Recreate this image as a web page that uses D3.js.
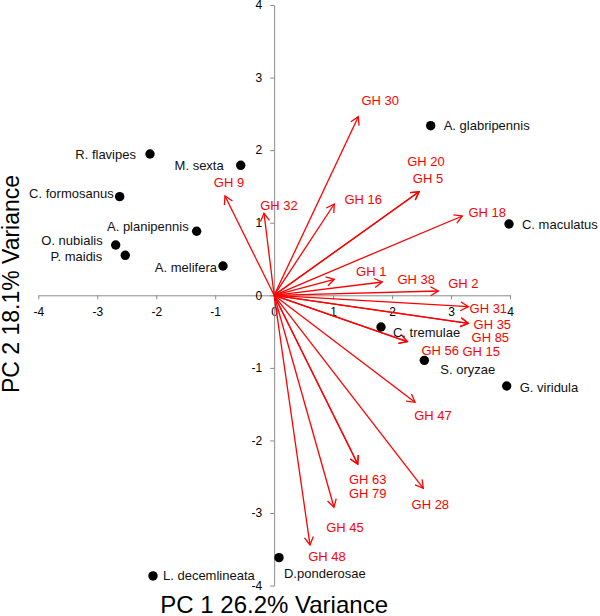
<!DOCTYPE html>
<html>
<head>
<meta charset="utf-8">
<script src="https://cdn.jsdelivr.net/npm/d3@7"></script>
<style>
  html, body { margin: 0; padding: 0; background: #fff; }
  svg { display: block; }
  text { font-family: "Liberation Sans", Arial, sans-serif; }
</style>
</head>
<body>
<svg id="chart" width="600" height="616"></svg>
<script>
// ---- Data ----
const tickValues = [-4, -3, -2, -1, 0, 1, 2, 3, 4];
const xTitle = "PC 1 26.2% Variance";
const yTitle = "PC 2 18.1% Variance";

const speciesNames = ["A. glabripennis", "C. maculatus", "C. tremulae", "S. oryzae", "G. viridula",
  "D.ponderosae", "L. decemlineata", "R. flavipes", "M. sexta", "C. formosanus",
  "A. planipennis", "O. nubialis", "P. maidis", "A. melifera"];
const speciesPC1 = [2.655, 3.983, 1.812, 2.547, 3.944, 0.082, -2.055, -2.106, -0.567, -2.62, -1.314, -2.687, -2.525, -0.868];
const speciesPC2 = [2.337, 0.982, -0.437, -0.896, -1.25, -3.615, -3.867, 1.947, 1.791, 1.359, 0.882, 0.693, 0.551, 0.404];

const ghNames = ["GH 30", "GH 20", "GH 5", "GH 16", "GH 18", "GH 1", "GH 38", "GH 2", "GH 31", "GH 35", "GH 85",
  "GH 56", "GH 15", "GH 47", "GH 28", "GH 63", "GH 79", "GH 45", "GH 48", "GH 9", "GH 32"];
const ghPC1 = [1.427, 2.457, 2.457, 1.02, 3.191, 1.02, 1.834, 2.784, 3.293, 3.293, 3.293,
  2.258, 2.258, 2.389, 2.53, 1.417, 1.417, 1.015, 0.608, -0.834, -0.172];
const ghPC2 = [2.461, 1.427, 1.427, 1.258, 1.093, 0.22, 0.183, 0.059, -0.157, -0.386, -0.386,
  -0.639, -0.639, -1.474, -2.659, -2.324, -2.324, -2.921, -3.44, 1.368, 1.13];

// ---- Layout (label offsets in px, not data) ----
const speciesLabelLayout = {
  "A. glabripennis": [13, 0, "start"], "C. maculatus": [13, 0, "start"], "C. tremulae": [12, 5, "start"],
  "S. oryzae": [16, 9, "start"], "G. viridula": [13, 1, "start"], "D.ponderosae": [5, 16, "start"],
  "L. decemlineata": [10, 0, "start"], "R. flavipes": [-14, 0, "end"], "M. sexta": [-17, 0, "end"],
  "C. formosanus": [-6, -3, "end"], "A. planipennis": [-8, -5, "end"], "O. nubialis": [-13, -5, "end"],
  "P. maidis": [-23, 1, "end"], "A. melifera": [-6, 1, "end"]
};
const ghLabelLayout = {
  "GH 30": [22, -16], "GH 20": [7, -30], "GH 5": [9, -13], "GH 16": [29, -5], "GH 18": [25, -4],
  "GH 1": [37, -8], "GH 38": [34, -3], "GH 2": [25, -8], "GH 31": [20, 2], "GH 35": [24, 1],
  "GH 85": [22, 14], "GH 56": [33, 9], "GH 15": [74, 10], "GH 47": [18, 13], "GH 28": [7, 16],
  "GH 63": [10, 15], "GH 79": [10, 29], "GH 45": [11, 20], "GH 48": [17, 11], "GH 9": [4, -14],
  "GH 32": [15, -8]
};

const species = speciesNames.map((n, i) => ({ name: n, x: speciesPC1[i], y: speciesPC2[i] }));
const vectors = ghNames.map((n, i) => ({ name: n, x: ghPC1[i], y: ghPC2[i] }));

// ---- Scales ----
const x = d3.scaleLinear().domain([-4, 4]).range([38.3, 510]);
const y = d3.scaleLinear().domain([-4, 4]).range([585.6, 5]);

const svg = d3.select("#chart");
const axisColor = "#8a8a8a";

// X axis
const gx = svg.append("g").attr("transform", `translate(0,${y(0)})`)
  .call(d3.axisBottom(x).tickValues(tickValues).tickFormat(d3.format("d")).tickSize(4).tickSizeOuter(0).tickPadding(8));
// Y axis
const gy = svg.append("g").attr("transform", `translate(${x(0)},0)`)
  .call(d3.axisLeft(y).tickValues(tickValues).tickFormat(d3.format("d")).tickSize(4).tickSizeOuter(0).tickPadding(8));

[gx, gy].forEach(g => {
  g.select(".domain").attr("stroke", axisColor).attr("stroke-width", 1);
  g.selectAll(".tick line").attr("stroke", axisColor);
  g.selectAll(".tick text").attr("fill", "#000").style("font-size", "12px")
    .style("font-family", "'Liberation Sans', Arial, sans-serif");
});
gx.selectAll(".tick text").text(d => d3.format("d")(d).replace("−", "-"));
gy.selectAll(".tick text").text(d => d3.format("d")(d).replace("−", "-"));

// Vectors
const red = "#ff0000";
const ox = x(0), oy = y(0);
const vg = svg.append("g");
vectors.forEach(v => {
  const tx = x(v.x), ty = y(v.y);
  const ang = Math.atan2(ty - oy, tx - ox);
  const L = 9, a = Math.PI / 6;
  const p1 = [tx - L * Math.cos(ang - a), ty - L * Math.sin(ang - a)];
  const p2 = [tx - L * Math.cos(ang + a), ty - L * Math.sin(ang + a)];
  vg.append("line").attr("x1", ox).attr("y1", oy).attr("x2", tx).attr("y2", ty)
    .attr("stroke", red).attr("stroke-width", 1.3);
  vg.append("path").attr("d", `M${p1[0]},${p1[1]}L${tx},${ty}L${p2[0]},${p2[1]}`)
    .attr("fill", "none").attr("stroke", red).attr("stroke-width", 1.3);
});
vg.selectAll("text.gh").data(vectors).join("text").attr("class", "gh")
  .attr("x", d => x(d.x) + ghLabelLayout[d.name][0])
  .attr("y", d => y(d.y) + ghLabelLayout[d.name][1])
  .attr("dy", "0.35em").attr("text-anchor", "middle")
  .attr("fill", red).style("font-size", "13px").text(d => d.name);

// Species points
const sg = svg.append("g");
sg.selectAll("circle").data(species).join("circle")
  .attr("cx", d => x(d.x)).attr("cy", d => y(d.y)).attr("r", 4.7).attr("fill", "#000");
sg.selectAll("text").data(species).join("text")
  .attr("x", d => x(d.x) + speciesLabelLayout[d.name][0])
  .attr("y", d => y(d.y) + speciesLabelLayout[d.name][1])
  .attr("dy", "0.35em").attr("text-anchor", d => speciesLabelLayout[d.name][2])
  .attr("fill", "#111").style("font-size", "13px").text(d => d.name);

// Titles
svg.append("text").attr("x", x(0)).attr("y", 613).attr("text-anchor", "middle")
  .style("font-size", "24px").attr("fill", "#000").text(xTitle);
svg.append("text").attr("transform", `translate(19,284) rotate(-90)`).attr("text-anchor", "middle")
  .style("font-size", "23px").attr("fill", "#000").text(yTitle);
</script>
</body>
</html>
